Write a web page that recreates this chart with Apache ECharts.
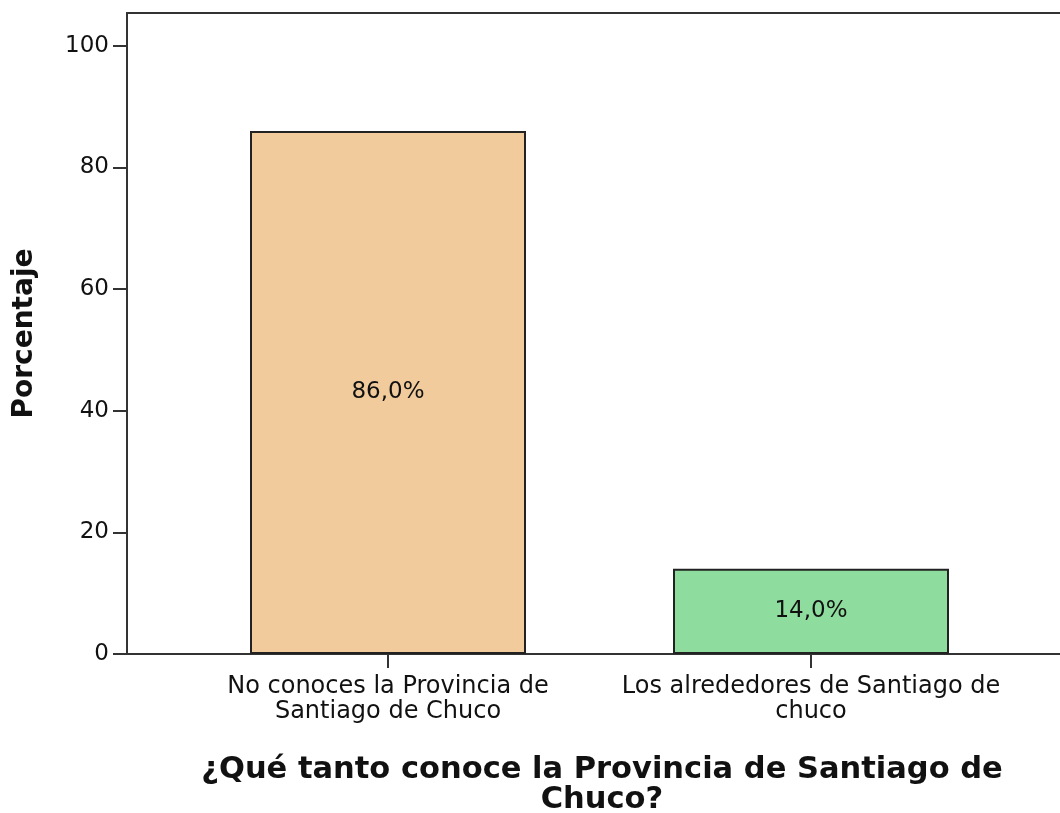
<!DOCTYPE html>
<html>
<head>
<meta charset="utf-8">
<script src="https://cdn.jsdelivr.net/npm/echarts@6/dist/echarts.min.js"></script>
<style>
  html, body { margin: 0; padding: 0; background: #fff; }
  #chart { width: 1060px; height: 813px; }
</style>
</head>
<body>
<div id="chart"></div>
<script>
// datos
const categories = ['No conoces la Provincia de\nSantiago de Chuco', 'Los alrededores de Santiago de\nchuco'];
const percentages = [86.0, 14.0];
const barColors = ['#F1CB9C', '#8EDD9E'];
const yTicks = [0, 20, 40, 60, 80, 100];

const yMax = 105.4;
const font = 'DejaVu Sans';

const myChart = echarts.init(document.getElementById('chart'));
const option = {
  animation: false,
  backgroundColor: '#fff',
  title: {
    text: '¿Qué tanto conoce la Provincia de Santiago de\nChuco?',
    left: 597,
    top: 750,
    textAlign: 'center',
    textStyle: {
      fontFamily: font,
      fontSize: 30.5,
      fontWeight: 'bold',
      color: '#111',
      lineHeight: 30
    }
  },
  grid: [
    // marco del gráfico (se sale por la derecha)
    { left: 127, top: 13, right: -30, bottom: 159, outerBoundsMode: 'none', containLabel: false },
    // zona de las barras
    { left: 176.5, top: 13, right: 37.5, bottom: 159, outerBoundsMode: 'none' }
  ],
  xAxis: [
    {
      gridIndex: 0, type: 'value', position: 'top', min: 0, max: 1,
      axisLine: { show: true, onZero: false, lineStyle: { color: '#333', width: 2 } },
      axisTick: { show: false }, axisLabel: { show: false }, splitLine: { show: false }
    },
    {
      gridIndex: 0, type: 'value', position: 'bottom', min: 0, max: 1,
      axisLine: { show: true, onZero: false, lineStyle: { color: '#333', width: 2 } },
      axisTick: { show: false }, axisLabel: { show: false }, splitLine: { show: false }
    },
    {
      gridIndex: 1,
      type: 'category',
      data: categories,
      axisLine: { show: false },
      axisTick: { show: true, alignWithLabel: true, length: 14, lineStyle: { color: '#333', width: 2 } },
      axisLabel: {
        interval: 0,
        fontFamily: font,
        fontSize: 24,
        lineHeight: 25,
        color: '#111',
        margin: 20
      }
    }
  ],
  yAxis: [
    {
      gridIndex: 0,
      type: 'value',
      min: 0,
      max: yMax,
      name: 'Porcentaje',
      nameLocation: 'middle',
      nameGap: 88,
      nameTextStyle: { fontFamily: font, fontSize: 28, fontWeight: 'bold', color: '#111' },
      axisLine: { show: true, onZero: false, lineStyle: { color: '#333', width: 2 } },
      axisTick: { show: true, length: 14, customValues: yTicks, lineStyle: { color: '#333', width: 2 } },
      axisLabel: { customValues: yTicks, fontFamily: font, fontSize: 23, color: '#111', margin: 18 },
      splitLine: { show: false }
    },
    { gridIndex: 1, type: 'value', min: 0, max: yMax, show: false }
  ],
  series: [
    {
      type: 'bar',
      xAxisIndex: 2,
      yAxisIndex: 1,
      barWidth: 276,
      data: percentages.map((v, i) => ({
        value: v,
        itemStyle: { color: barColors[i], borderColor: '#222', borderWidth: 2 }
      })),
      label: {
        show: true,
        position: 'inside',
        fontFamily: font,
        fontSize: 23,
        color: '#111',
        formatter: (p) => p.value.toFixed(1).replace('.', ',') + '%'
      }
    }
  ]
};
myChart.setOption(option);
</script>
</body>
</html>
